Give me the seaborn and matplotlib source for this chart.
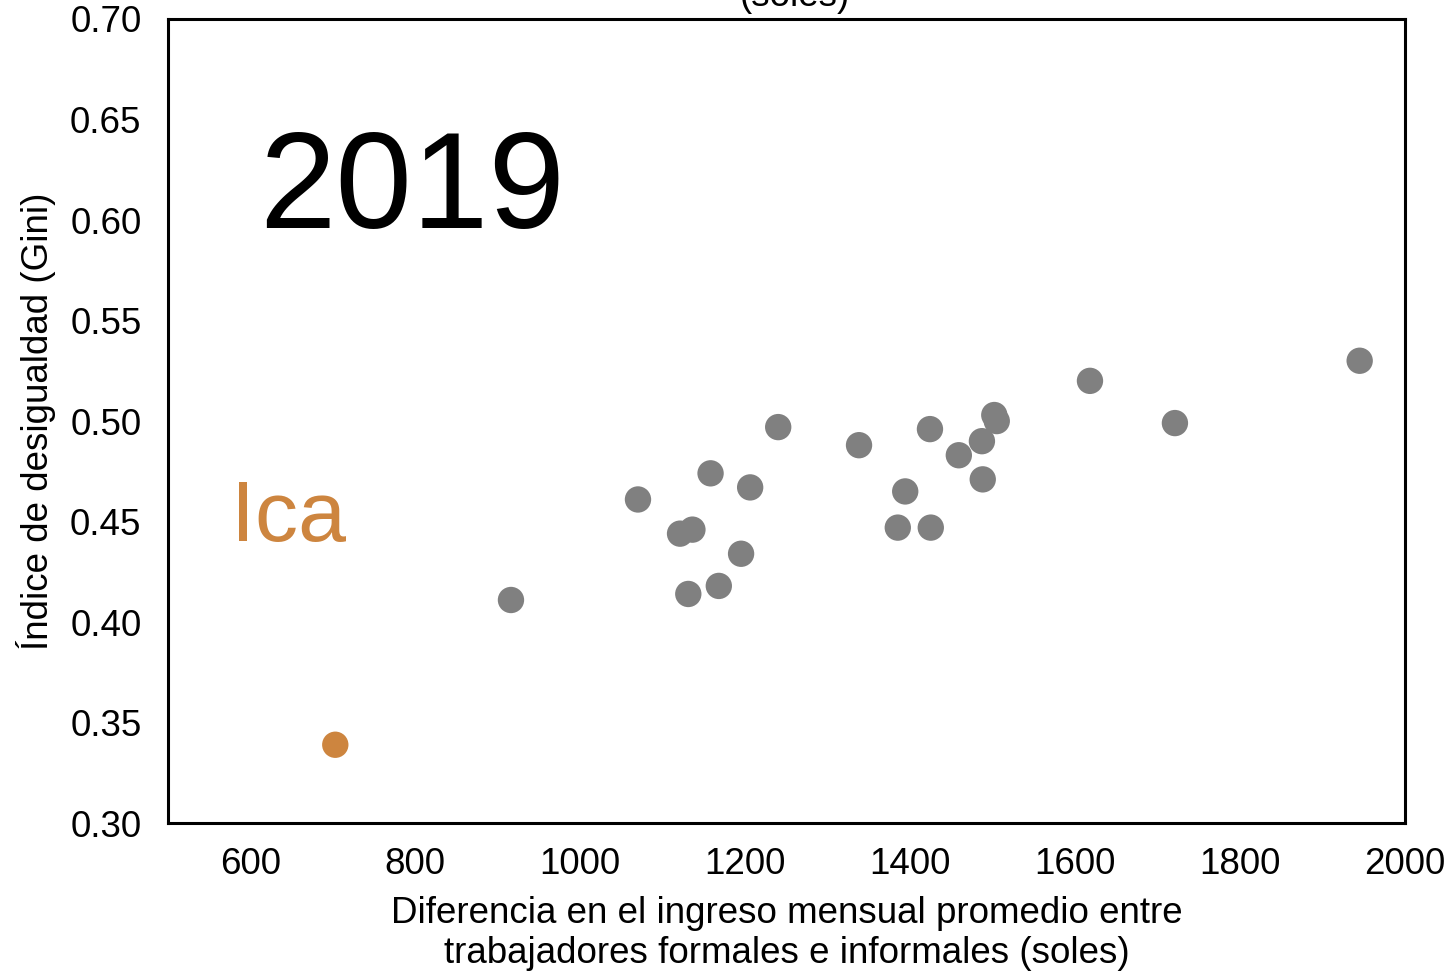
import matplotlib
matplotlib.use("Agg")
import matplotlib.pyplot as plt
import seaborn as sns
import pandas as pd

# Data
regions = ["Ica"] + [f"R{i}" for i in range(1, 25)]
income_gap = [703, 916, 1070, 1121, 1136, 1131, 1158, 1168, 1195, 1206, 1240,
              1338, 1385, 1394, 1424, 1425, 1459, 1487, 1488, 1502, 1505,
              1618, 1721, 1945]
gini = [0.339, 0.411, 0.461, 0.444, 0.446, 0.414, 0.474, 0.418, 0.434, 0.467, 0.497,
        0.488, 0.447, 0.465, 0.496, 0.447, 0.483, 0.490, 0.471, 0.503, 0.500,
        0.520, 0.499, 0.530]
regions = regions[:len(income_gap)]
highlight = ["Ica"]
year_label = "2019"
x_ticks = [600, 800, 1000, 1200, 1400, 1600, 1800, 2000]
y_ticks = [0.30, 0.35, 0.40, 0.45, 0.50, 0.55, 0.60, 0.65, 0.70]

df = pd.DataFrame({"region": regions, "gap": income_gap, "gini": gini})
df["group"] = ["hl" if r in highlight else "other" for r in df["region"]]

sns.set_theme(style="white")
plt.rcParams["font.family"] = ["Liberation Sans", "DejaVu Sans"]

ORANGE = "#CD853F"
GRAY = "#808080"

fig = plt.figure(figsize=(14.47, 9.73), dpi=100)
ax = fig.add_axes([0.116, 0.154, 0.855, 0.8265])

sns.scatterplot(data=df, x="gap", y="gini", hue="group",
                palette={"hl": ORANGE, "other": GRAY},
                s=360, edgecolor="none", legend=False, ax=ax, zorder=3)

ax.set_xlim(500, 2000)
ax.set_ylim(0.30, 0.70)
ax.set_xticks(x_ticks)
ax.set_yticks(y_ticks)
ax.set_yticklabels([f"{v:.2f}" for v in y_ticks])
ax.tick_params(axis="both", labelsize=26.5, colors="black", length=0)
ax.tick_params(axis="y", pad=19)
ax.tick_params(axis="x", pad=17)

for sp in ax.spines.values():
    sp.set_color("black")
    sp.set_linewidth(2.2)

ax.set_xlabel("Diferencia en el ingreso mensual promedio entre\ntrabajadores formales e informales (soles)",
              fontsize=26.5, color="black", labelpad=10, linespacing=1.2)
ax.set_ylabel("Índice de desigualdad (Gini)", fontsize=26.5, color="black", labelpad=10)

ax.text(611, 0.596, year_label, fontsize=99, color="black", va="baseline", ha="left")
ax.text(576, 0.4405, "Ica", fontsize=62, color=ORANGE, va="baseline", ha="left")

fig.text(0.549, 0.9938, "(soles)", fontsize=26.5, color="black", ha="center", va="baseline")

fig.savefig("out.png", dpi=100)
